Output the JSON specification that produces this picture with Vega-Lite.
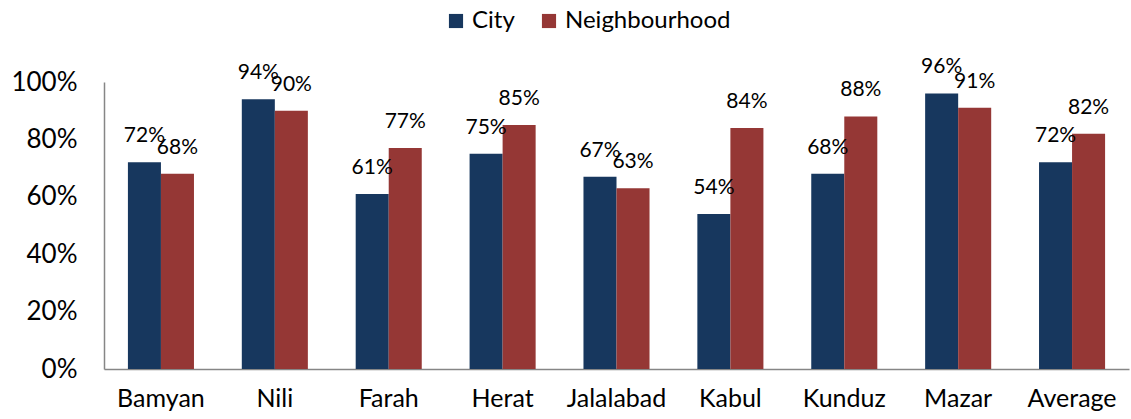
{
  "$schema": "https://vega.github.io/schema/vega-lite/v6.json",
  "width": 1025,
  "height": 287,
  "autosize": {"type": "none"},
  "padding": {"left": 104, "top": 82, "right": 2, "bottom": 50},
  "background": "white",
  "config": {
    "font": "Lato",
    "view": {"stroke": null}
  },
  "data": {
    "values": [
      {"place": "Bamyan", "series": "City", "value": 0.72},
      {"place": "Bamyan", "series": "Neighbourhood", "value": 0.68},
      {"place": "Nili", "series": "City", "value": 0.94},
      {"place": "Nili", "series": "Neighbourhood", "value": 0.90},
      {"place": "Farah", "series": "City", "value": 0.61},
      {"place": "Farah", "series": "Neighbourhood", "value": 0.77},
      {"place": "Herat", "series": "City", "value": 0.75},
      {"place": "Herat", "series": "Neighbourhood", "value": 0.85},
      {"place": "Jalalabad", "series": "City", "value": 0.67},
      {"place": "Jalalabad", "series": "Neighbourhood", "value": 0.63},
      {"place": "Kabul", "series": "City", "value": 0.54},
      {"place": "Kabul", "series": "Neighbourhood", "value": 0.84},
      {"place": "Kunduz", "series": "City", "value": 0.68},
      {"place": "Kunduz", "series": "Neighbourhood", "value": 0.88},
      {"place": "Mazar", "series": "City", "value": 0.96},
      {"place": "Mazar", "series": "Neighbourhood", "value": 0.91},
      {"place": "Average", "series": "City", "value": 0.72},
      {"place": "Average", "series": "Neighbourhood", "value": 0.82}
    ]
  },
  "encoding": {
    "x": {
      "field": "place",
      "type": "nominal",
      "sort": null,
      "title": null,
      "scale": {"paddingInner": 0.42, "paddingOuter": 0.21},
      "axis": {
        "labelAngle": 0,
        "labelFontSize": 25,
        "labelColor": "#000000",
        "labelPadding": 17,
        "ticks": false,
        "domainColor": "#868686",
        "domainWidth": 1.5
      }
    },
    "xOffset": {
      "field": "series",
      "type": "nominal",
      "scale": {"paddingInner": 0, "paddingOuter": 0}
    },
    "y": {
      "field": "value",
      "type": "quantitative",
      "title": null,
      "scale": {"domain": [0, 1]},
      "axis": {
        "values": [0, 0.2, 0.4, 0.6, 0.8, 1],
        "format": ".0%",
        "grid": false,
        "ticks": false,
        "labelFontSize": 26,
        "labelColor": "#000000",
        "labelPadding": 27,
        "domainColor": "#868686",
        "domainWidth": 1.5
      }
    }
  },
  "layer": [
    {
      "mark": {"type": "bar"},
      "encoding": {
        "color": {
          "field": "series",
          "type": "nominal",
          "scale": {"domain": ["City", "Neighbourhood"], "range": ["#17375E", "#953735"]},
          "legend": {
            "title": null,
            "orient": "none",
            "direction": "horizontal",
            "legendX": 340,
            "legendY": -73,
            "symbolType": "square",
            "symbolSize": 200,
            "symbolStrokeWidth": 0,
            "labelFontSize": 24,
            "labelLimit": 400,
            "labelColor": "#000000",
            "columnPadding": 22,
            "labelOffset": 4
          }
        }
      }
    },
    {
      "mark": {"type": "text", "baseline": "alphabetic", "dy": -20, "fontSize": 21, "color": "#000000"},
      "encoding": {
        "text": {"field": "value", "type": "quantitative", "format": ".0%"}
      }
    }
  ]
}
